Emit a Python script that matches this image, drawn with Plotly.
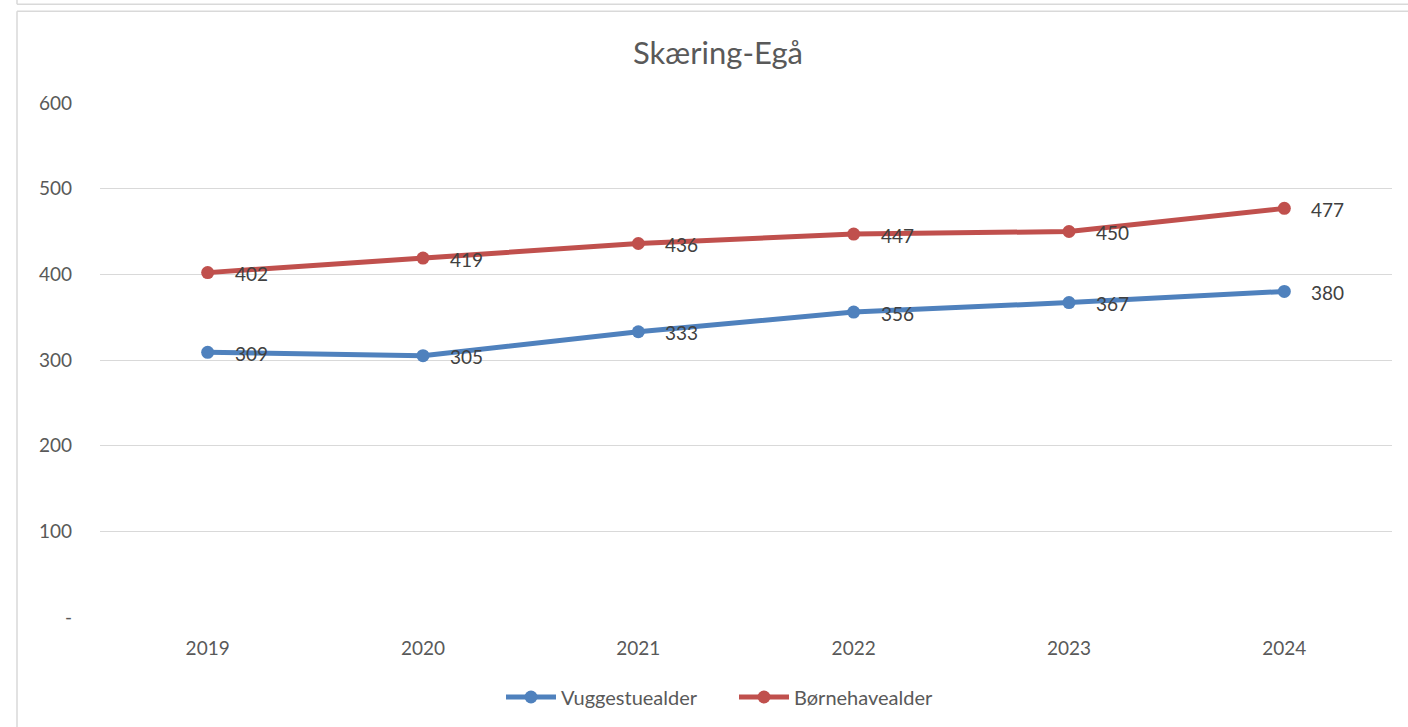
import plotly.graph_objects as go

years = ["2019", "2020", "2021", "2022", "2023", "2024"]
vuggestue = [309, 305, 333, 356, 367, 380]
boernehave = [402, 419, 436, 447, 450, 477]
yticks = [0, 100, 200, 300, 400, 500, 600]
yticktext = ["-", "100", "200", "300", "400", "500", "600"]

W, H = 1408, 727
L, R, T, B = 100, 1392, 103, 618

def px(x):
    return (x - L) / (R - L)

def py(y):
    return (B - y) / (B - T)

FONT = "Lato, Calibri, Carlito, sans-serif"
fig = go.Figure()
series = [("Vuggestuealder", vuggestue, "#4f81bd"), ("Børnehavealder", boernehave, "#c0504d")]
annotations = []
for name, vals, col in series:
    fig.add_trace(go.Scatter(
        x=years, y=vals, name=name, mode="lines+markers",
        line=dict(color=col, width=5),
        marker=dict(color=col, size=13),
    ))
    for i, v in enumerate(vals):
        annotations.append(dict(x=i, y=v, xref="x", yref="y", text=str(v), showarrow=False,
                                xanchor="left", yanchor="middle", xshift=25, yshift=-1,
                                font=dict(family=FONT, size=19, color="#404040")))

shapes = []
line_style = dict(color="#d9d9d9", width=1.5)
shapes.append(dict(type="line", xref="paper", yref="paper", x0=px(17), x1=px(1410), y0=py(4), y1=py(4), line=line_style))
shapes.append(dict(type="line", xref="paper", yref="paper", x0=px(17), x1=px(17), y0=py(-2), y1=py(4), line=line_style))
shapes.append(dict(type="line", xref="paper", yref="paper", x0=px(17), x1=px(1410), y0=py(11), y1=py(11), line=line_style))
shapes.append(dict(type="line", xref="paper", yref="paper", x0=px(17), x1=px(17), y0=py(11), y1=py(730), line=line_style))

fig.update_layout(
    width=W, height=H,
    margin=dict(l=L, r=W - R, t=T, b=H - B, pad=0),
    paper_bgcolor="white", plot_bgcolor="white",
    font=dict(family=FONT, color="#595959"),
    title=dict(text="Skæring-Egå", x=px(718), xref="paper", xanchor="center",
               y=1 - 53 / H, yanchor="middle", font=dict(size=31, color="#595959", family=FONT)),
    xaxis=dict(type="category", range=[-0.5, 5.5], showgrid=False, showline=False,
               zeroline=False, ticks="", tickfont=dict(size=19, color="#595959"),
               ticklabelstandoff=18),
    yaxis=dict(range=[0, 600], tickvals=yticks, ticktext=yticktext, showgrid=True,
               gridcolor="#d9d9d9", gridwidth=1.3, zeroline=False, showline=False, ticks="",
               tickfont=dict(size=19, color="#595959"), ticklabelstandoff=27),
    showlegend=True,
    legend=dict(orientation="h", x=px(734), xanchor="center", y=py(697), yanchor="middle",
                font=dict(size=20, color="#595959", family=FONT), itemwidth=50,
                entrywidth=168, bgcolor="rgba(0,0,0,0)"),
    shapes=shapes,
    annotations=annotations,
)

fig.write_html("out.html", config={"displayModeBar": False},
               post_script="document.body.style.margin='0';document.body.style.overflow='hidden';")
